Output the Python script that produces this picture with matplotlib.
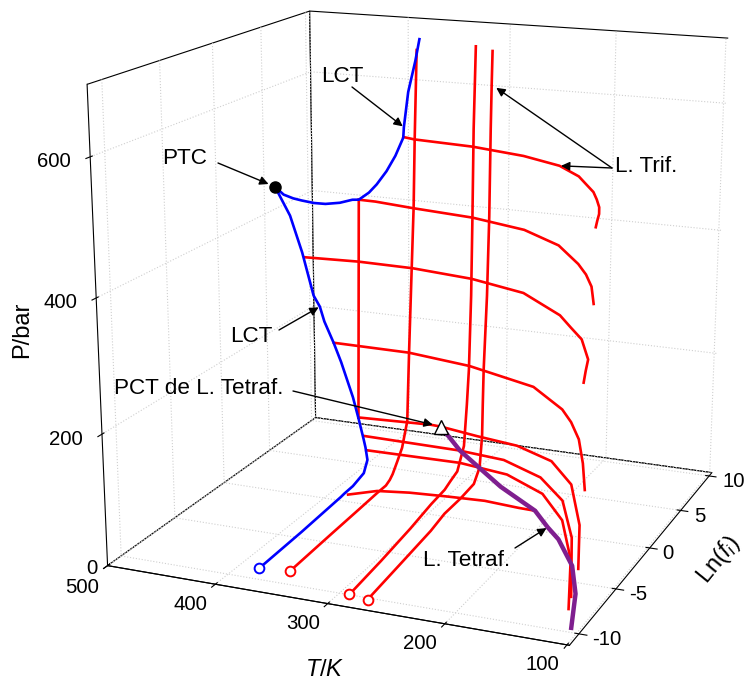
import matplotlib
matplotlib.use("Agg")
import matplotlib.pyplot as plt
from mpl_toolkits.mplot3d import proj3d

plt.rcParams['font.family'] = ['Liberation Sans', 'DejaVu Sans']
plt.rcParams['mathtext.fontset'] = 'custom'
plt.rcParams['mathtext.rm'] = 'Liberation Sans'
plt.rcParams['mathtext.it'] = 'Liberation Sans:italic'
plt.rcParams['axes.unicode_minus'] = False
plt.rcParams['grid.color'] = '#cfcfcf'
plt.rcParams['grid.linestyle'] = ':'
plt.rcParams['grid.linewidth'] = 0.8

# ---------------- data: (T / K, Ln f, P / bar) ----------------
# critical line (LCT) through the tricritical point
lct_T = [382, 384, 386, 386, 386, 386, 386.4, 392.4, 397.6, 407.4, 415.5, 431, 439.3, 448.5,
         453, 459.6, 472.4, 485.3, 499.6, 491.8, 483, 475.2, 463.5, 452.8, 439.1, 426.4,
         420, 409.8, 402, 392.2, 383.4, 375.6, 375, 370.7, 363.7, 359.8]
lct_L = [-8.89, -4.29, 0.3, 0.7, 1.7, 3.0, 3.5, 4.0, 4.4, 5.0, 5.3, 5.75, 5.85, 5.85,
         5.86, 5.9, 6.1, 6.22, 6.15, 6.25, 6.35, 6.45, 6.55, 6.65, 6.75, 6.75,
         6.75, 6.75, 6.75, 6.75, 6.75, 6.75, 6.75, 6.75, 6.75, 6.75]
lct_P = [0, 0, 2, 3, 4, 11, 27.8, 41.8, 50.7, 76, 108, 160, 190, 224,
         248, 265, 333, 391, 437, 424.5, 419, 416, 413, 412.5, 415.9, 422.9,
         424, 437.2, 451.8, 474.7, 500.8, 531, 547.7, 604, 654, 688]
ptc = (499.6, 6.15, 437)

# isotherms (vapour branch at low pressure)
iso_T = [
    [356, 358.5, 360, 361, 361, 361, 361, 361, 361, 361, 361, 361, 361, 361, 361],
    [291.5, 294, 297, 300, 300, 300, 300, 300, 300, 300, 300, 300, 300, 300],
    [274, 277, 280.5, 284, 284, 284, 284, 284, 284, 284, 284, 284, 284, 284, 284],
]
iso_P = [
    [0, 0, 0, 0.5, 0.8, 4.9, 10.6, 26, 42, 80, 193, 327, 426, 532, 672],
    [0, 3, 7, 11, 15, 21, 27, 60, 125, 181, 299, 424, 562, 688],
    [0, 2, 4, 5, 6, 10, 29, 78, 129, 187, 303, 428, 564, 632, 683],
]
iso_L = [
    [-8.67, -3.97, -0.8, 1.56, 2.62, 3.1, 3.45, 4.05, 4.64, 5.3, 5.55, 5.9, 6.16, 6.3, 6.56],
    [-9.97, -6.23, -2.49, 0.42, 2.12, 2.88, 3.75, 4.62, 4.98, 5.23, 5.47, 5.58, 5.67, 5.89],
    [-10.16, -6.36, -2.19, -0.03, 2.0, 3.76, 4.52, 4.83, 4.89, 4.98, 5.35, 5.57, 5.67, 5.75, 5.83],
]

# isobaric three-phase lines
bar_P = [532, 424, 325, 190, 78, 56, 40]
bar_T = [
    [375.6, 362.5, 303, 248.5, 207, 179, 165.3, 150, 139.4, 129.5, 122.7, 117, 112],
    [420, 403, 361, 299, 242, 197, 162.5, 146.4, 131, 122, 114],
    [470, 418, 363, 300.7, 242, 190, 170, 151, 129, 121.4, 113.6],
    [439, 363, 297, 224, 181, 163.5, 144, 123, 103],
    [408, 339, 328, 288, 246, 204.5, 170, 134, 106],
    [397.6, 302, 256, 211, 175, 141, 103],
    [390, 298.6, 249, 204, 168, 134, 104],
]
bar_L = [
    [6.75, 6.44, 5.97, 4.97, 3.64, 1.92, 0.67, -0.72, -1.99, -3.28, -4.41, -5.6, -6.6],
    [6.75, 6.7, 6.15, 5.49, 4.22, 2.13, -0.59, -2.11, -3.85, -5.16, -6.33],
    [6.15, 6.41, 6.29, 5.6, 4.22, 1.38, -0.25, -1.77, -4.43, -5.98, -7.5],
    [5.85, 5.77, 4.91, 3.08, 0.51, -1.0, -3.03, -5.84, -8.8],
    [5.05, 5.42, 5.35, 4.73, 4.19, 2.80, 0.24, -4.32, -8.95],
    [4.4, 4.25, 3.83, 2.27, -0.17, -4.23, -10.3],
    [3.8, 3.9, 3.27, 1.51, -1.28, -5.45, -10.44],
]
# low-pressure three-phase line ending on the four-phase line
low_T = [380, 358.5, 329, 293.5, 259, 225.6, 210]
low_L = [0.42, 1.25, 1.49, 1.64, 1.72, 1.48, 1.43]
low_P = [6, 8, 10, 11, 12, 12, 12]

# link between the two branches of the critical line
link_T = [420, 408]
link_L = [6.75, 5.05]
link_P = [424, 78]

# four-phase line, starting at its critical end point
tet_T = [328, 301, 278, 250.4, 210, 189, 173, 145, 124.7, 107]
tet_L = [5.35, 4.24, 3.63, 2.62, 1.43, 0.0, -0.97, -3.45, -6.2, -9.56]
tet_P = [78, 56, 40, 27, 12, 8, 5, 2, 0.5, 0]

T_ticks = [500, 400, 300, 200, 100]
L_ticks = [-10, -5, 0, 5, 10]
P_ticks = [0, 200, 400, 600]
T_lim = (500, 98)
L_lim = (-11.2, 10.5)
P_lim = (0, 700)

# ---------------- figure ----------------
W, H = 750, 684
fig = plt.figure(figsize=(W / 100, H / 100), dpi=100)
S = 614
ox, oy = 426, 295          # pixel position of the view centre
left = (ox - 0.5135 * S) / W
bottom = (H - oy - 0.5135 * S) / H
ax = fig.add_axes([left, bottom, S / W, S / H], projection='3d',
                  proj_type='persp', focal_length=0.67)
ax.computed_zorder = False
ax.set_box_aspect((1, 1, 1), zoom=1.3)
ax.view_init(elev=16.0, azim=-67.5)
ax.set_xlim(*T_lim)
ax.set_ylim(*L_lim)
ax.set_zlim(*P_lim)
ax.set_xticks(T_ticks)
ax.set_yticks(L_ticks)
ax.set_zticks(P_ticks)
ax.set_xticklabels([])
ax.set_yticklabels([])
ax.set_zticklabels([])
ax.zaxis.set_ticks_position('lower')
ax.set_xlabel('')
ax.set_ylabel('')
ax.set_zlabel('')

for axis in (ax.xaxis, ax.yaxis, ax.zaxis):
    axis.set_pane_color((1, 1, 1, 1))
    axis.pane.set_edgecolor('black')
    axis.pane.set_linewidth(0.8)
    axis.line.set_color('black')
    axis.line.set_linewidth(0.8)
    axis._axinfo['grid'].update(color='#cfcfcf', linestyle=':', linewidth=0.8)

red = '#ff0000'
blue = '#0000ff'
purple = '#7f1f8f'
lw = 1.9
kw = dict(clip_on=False)

for T, P, L in zip(iso_T, iso_P, iso_L):
    ax.plot(T, L, P, color=red, lw=lw, **kw)
for P, T, L in zip(bar_P, bar_T, bar_L):
    ax.plot(T, L, [P] * len(T), color=red, lw=lw, **kw)
ax.plot(low_T, low_L, low_P, color=red, lw=lw, **kw)
ax.plot(link_T, link_L, link_P, color=red, lw=lw, **kw)
ax.plot(lct_T, lct_L, lct_P, color=blue, lw=lw, **kw)
ax.plot(tet_T, tet_L, tet_P, color=purple, lw=3.2, **kw)

# end points at low pressure
for T, P, L in zip(iso_T, iso_P, iso_L):
    ax.plot([T[0]], [L[0]], [P[0]], 'o', ms=7, mfc='white', mec=red, mew=1.4, **kw)
ax.plot([lct_T[0]], [lct_L[0]], [lct_P[0]], 'o', ms=7, mfc='white', mec=blue, mew=1.4, **kw)
ax.plot([ptc[0]], [ptc[1]], [ptc[2]], 'o', ms=8, color='black', **kw)
ax.plot([tet_T[0]], [tet_L[0]], [tet_P[0]], '^', ms=10, mfc='white', mec='black',
        mew=1.0, **kw)

# ---------------- tick labels, labels and arrows ----------------
M = ax.get_proj()


def to2d(T, L, P):
    x2, y2, _ = proj3d.proj_transform(T, L, P, M)
    return (x2, y2)


def frac(px, py):
    return (px / W, 1 - py / H)


tick_fs = 14.7
for T in T_ticks:
    dy = -22 if T == T_ticks[0] else -20
    ax.annotate(str(T), xy=to2d(T, L_lim[0], P_lim[0]), xycoords='data',
                xytext=(-25, dy), textcoords='offset pixels', ha='center', va='center',
                fontsize=tick_fs, annotation_clip=False)
for L in L_ticks:
    ax.annotate(str(L), xy=to2d(T_lim[1], L, P_lim[0]), xycoords='data',
                xytext=(13, -6), textcoords='offset pixels', ha='left', va='center',
                fontsize=tick_fs, annotation_clip=False)
for P in P_ticks:
    dx, dy = (-10, -3) if P == P_ticks[0] else (-19, -5)
    ax.annotate(str(P), xy=to2d(T_lim[0], L_lim[0], P), xycoords='data',
                xytext=(dx, dy), textcoords='offset pixels', ha='right', va='center',
                fontsize=tick_fs, annotation_clip=False)


def arrow(start, target, shrink=1):
    ax.annotate('', xy=to2d(*target), xycoords='data', xytext=frac(*start),
                textcoords='figure fraction', annotation_clip=False,
                arrowprops=dict(arrowstyle='-|>', color='black', lw=1.0,
                                shrinkA=0, shrinkB=shrink, mutation_scale=13))


fs = 16.2
texts = [('LCT', 342, 77), ('PTC', 185, 159), ('LCT', 251, 336),
         ('PCT de L. Tetraf.', 199, 389), ('L. Trif.', 646, 166),
         ('L. Tetraf.', 467, 561)]
for s, px, py in texts:
    fig.text(*frac(px, py), s, fontsize=fs, ha='center', va='center')

arrow((352, 87), (lct_T[32], lct_L[32], lct_P[32]))
arrow((218, 163), ptc, shrink=5)
arrow((279, 330), (lct_T[14], lct_L[14], lct_P[14]))
arrow((293, 391), (tet_T[0], tet_L[0], tet_P[0]), shrink=6)
arrow((612, 168), (bar_T[0][4], bar_L[0][4], bar_P[0]))
arrow((612, 168), (iso_T[2][13], iso_L[2][13], iso_P[2][13]), shrink=4)
arrow((515, 548), (tet_T[5], tet_L[5], tet_P[5]))

fig.text(*frac(22, 330), 'P/bar', fontsize=17, rotation=90, ha='center', va='center')
fig.text(*frac(325, 670), r'$T$/$K$', fontsize=17, ha='center', va='center')
fig.text(*frac(718, 560), r'Ln($f_i$)', fontsize=17, rotation=51, ha='center', va='center')

fig.savefig('out.png', dpi=100)
